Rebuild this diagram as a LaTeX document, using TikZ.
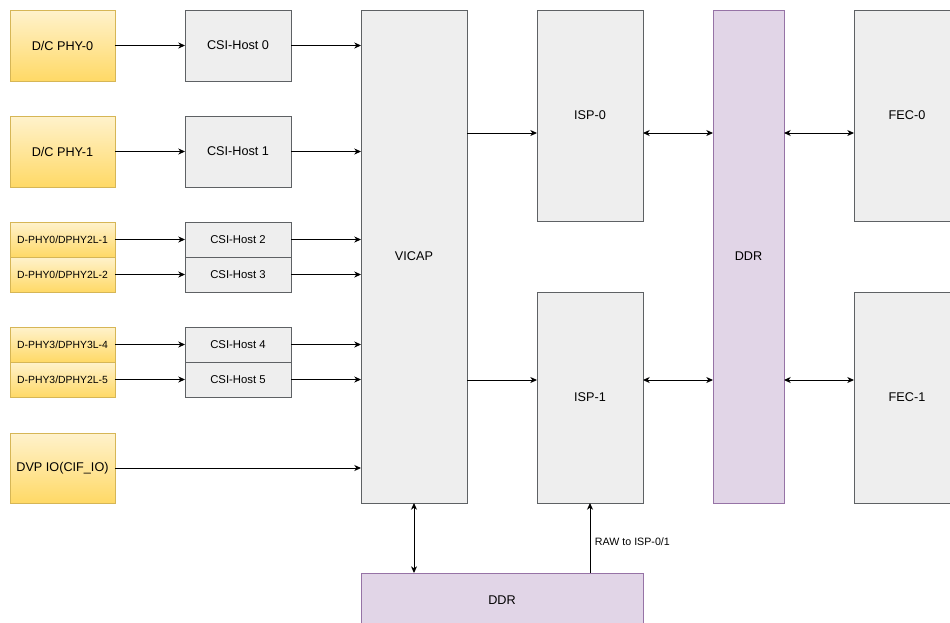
\documentclass[tikz,border=0pt]{standalone}
\usepackage{fontspec}
\setmainfont{Liberation Sans}
\usetikzlibrary{arrows.meta}

\definecolor{phytop}{HTML}{FFF2CC}
\definecolor{phybot}{HTML}{FFD966}
\definecolor{phyline}{HTML}{D6B656}
\definecolor{blkfill}{HTML}{EEEEEE}
\definecolor{blkline}{HTML}{36393D}
\definecolor{memfill}{HTML}{E1D5E7}
\definecolor{memline}{HTML}{9673A6}

\def\px{0.75pt}

\tikzset{
	box/.style={inner sep=0pt, outer sep=0pt, anchor=north west, line width=0.75pt, align=center},
	phy/.style={box, draw=phyline, top color=phytop, bottom color=phybot, minimum width=105*\px},
	blk/.style={box, draw=blkline!80, fill=blkfill, minimum width=106*\px},
	mem/.style={box, draw=memline, fill=memfill},
	link/.style={-{Stealth[length=5pt, width=4.5pt, inset=1.5pt]}, line width=0.75pt},
	dlink/.style={{Stealth[length=5pt, width=4.5pt, inset=1.5pt]}-{Stealth[length=5pt, width=4.5pt, inset=1.5pt]}, line width=0.75pt},
	big/.style={font=\fontsize{9.5}{11}\selectfont},
	small/.style={font=\fontsize{7.8}{9}\selectfont},
}

\begin{document}
\begin{tikzpicture}[x=\px, y=-\px, big]
	\useasboundingbox (0,0) rectangle (950,622);
	\clip (0,0) rectangle (950,622);

	% sensor inputs and csi hosts
	\node[phy, minimum height=71*\px] (phy0) at (10,10) {D/C PHY-0};
	\node[phy, minimum height=71*\px] (phy1) at (10,116) {D/C PHY-1};
	\node[blk, minimum height=71*\px] (csi0) at (185,10) {CSI-Host 0};
	\node[blk, minimum height=71*\px] (csi1) at (185,116) {CSI-Host 1};

	\foreach \i/\y/\name in {2/222/{D-PHY0/DPHY2L-1}, 3/257/{D-PHY0/DPHY2L-2}, 4/327/{D-PHY3/DPHY3L-4}, 5/362/{D-PHY3/DPHY2L-5}}{
		\node[phy, small, minimum height=35*\px] (phy\i) at (10,\y) {\name};
		\node[blk, font=\fontsize{8.5}{10}\selectfont, minimum height=35*\px] (csi\i) at (185,\y) {CSI-Host \i};
	}

	\node[phy, minimum height=70*\px] (dvp) at (10,433) {DVP IO(CIF\_IO)};

	% processing blocks
	\node[blk, minimum height=493*\px] (vicap) at (361,10) {VICAP};
	\node[blk, minimum height=211*\px] (isp0) at (537,10) {ISP-0};
	\node[blk, minimum height=211*\px] (isp1) at (537,292) {ISP-1};
	\node[mem, minimum width=71*\px, minimum height=493*\px] (ddr) at (713,10) {DDR};
	\node[blk, minimum height=211*\px] (fec0) at (854,10) {FEC-0};
	\node[blk, minimum height=211*\px] (fec1) at (854,292) {FEC-1};
	\node[mem, minimum width=282*\px, minimum height=54*\px] (ddrb) at (361,573) {DDR};

	% connections
	\foreach \i in {0,...,5}{
		\draw[link] (phy\i) -- (csi\i);
		\draw[link] (csi\i) -- (csi\i -| vicap.west);
	}
	\draw[link] (dvp) -- (dvp -| vicap.west);

	\coordinate (r0) at ([yshift=-17.5*\px]isp0.west);
	\coordinate (r1) at ([yshift=17.5*\px]isp1.west);
	\foreach \r/\k in {r0/0, r1/1}{
		\draw[link] (\r -| vicap.east) -- (\r);
		\draw[dlink] (\r -| isp\k.east) -- (\r -| ddr.west);
		\draw[dlink] (\r -| ddr.east) -- (\r -| fec\k.west);
	}

	\draw[dlink] (vicap.south) -- (vicap.south |- ddrb.north);
	\draw[link] (isp1.south |- ddrb.north) -- node[right, pos=0.45, font=\fontsize{8}{9}\selectfont] {RAW to ISP-0/1} (isp1.south);
\end{tikzpicture}
\end{document}
